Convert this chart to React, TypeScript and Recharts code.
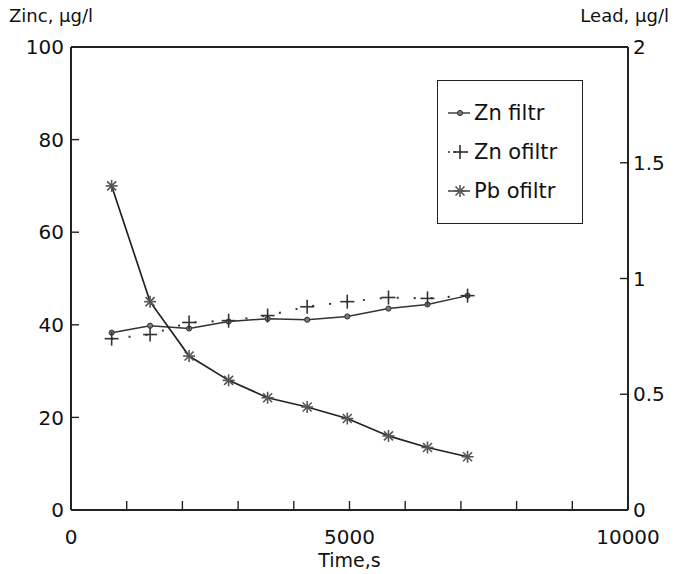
import React from 'react';
import { ComposedChart, Line, XAxis, YAxis, ReferenceLine, Legend } from 'recharts';

const times = [730, 1420, 2120, 2830, 3530, 4240, 4960, 5700, 6400, 7120];
const znFiltr = [38.3, 39.8, 39.2, 40.7, 41.3, 41.1, 41.8, 43.5, 44.4, 46.3];
const znOfiltr = [37.0, 37.9, 40.5, 40.9, 42.0, 43.9, 45.0, 45.9, 45.7, 46.3];
const pbOfiltr = [1.4, 0.9, 0.665, 0.56, 0.485, 0.445, 0.395, 0.32, 0.27, 0.23];

const xTicks = [0, 1000, 2000, 3000, 4000, 5000, 6000, 7000, 8000, 9000, 10000];
const xTickLabels = ['0', '5000', '10000'];
const zincTicks = [0, 20, 40, 60, 80, 100];
const leadTicks = [0, 0.5, 1, 1.5, 2];

const seriesNames = ['Zn filtr', 'Zn ofiltr', 'Pb ofiltr'];

const data = times.map((t, i) => ({ t, zf: znFiltr[i], zo: znOfiltr[i], pb: pbOfiltr[i] }));

const FONT = '"DejaVu Sans", Verdana, sans-serif';
const INK = '#222';
const MARK = '#555';

const XTick = (props: any) => {
  const { x, y, payload } = props;
  const v = String(payload.value);
  return (
    <g>
      <line x1={x} y1={y} x2={x} y2={y - 9} stroke={INK} strokeWidth={1.4} />
      {xTickLabels.includes(v) && (
        <text x={x} y={y + 34} textAnchor="middle" fontFamily={FONT} fontSize={20} fill="#111">{v}</text>
      )}
    </g>
  );
};

const LeftTick = (props: any) => {
  const { x, y, payload } = props;
  return (
    <g>
      <line x1={x} y1={y} x2={x + 8} y2={y} stroke={INK} strokeWidth={1.4} />
      <text x={x - 7} y={y} dy="0.36em" textAnchor="end" fontFamily={FONT} fontSize={20} fill="#111">{payload.value}</text>
    </g>
  );
};

const RightTick = (props: any) => {
  const { x, y, payload } = props;
  return (
    <g>
      <line x1={x} y1={y} x2={x - 8} y2={y} stroke={INK} strokeWidth={1.4} />
      <text x={x + 5} y={y} dy="0.36em" textAnchor="start" fontFamily={FONT} fontSize={20} fill="#111">{payload.value}</text>
    </g>
  );
};

const DotMarker = (props: any) => {
  const { cx, cy, index } = props;
  if (cx == null || cy == null) return <g key={index} />;
  return <circle key={index} cx={cx} cy={cy} r={2.6} fill="#777" stroke="#333" strokeWidth={1} />;
};

const PlusMarker = (props: any) => {
  const { cx, cy, index } = props;
  if (cx == null || cy == null) return <g key={index} />;
  return (
    <g key={index} stroke="#333" strokeWidth={1.6}>
      <line x1={cx - 7} y1={cy} x2={cx + 7} y2={cy} />
      <line x1={cx} y1={cy - 7} x2={cx} y2={cy + 7} />
    </g>
  );
};

const StarMarker = (props: any) => {
  const { cx, cy, index } = props;
  if (cx == null || cy == null) return <g key={index} />;
  const r = 6;
  const d = 4.5;
  return (
    <g key={index} stroke={MARK} strokeWidth={1.6}>
      <line x1={cx - r} y1={cy} x2={cx + r} y2={cy} />
      <line x1={cx} y1={cy - r} x2={cx} y2={cy + r} />
      <line x1={cx - d} y1={cy - d} x2={cx + d} y2={cy + d} />
      <line x1={cx - d} y1={cy + d} x2={cx + d} y2={cy - d} />
    </g>
  );
};

const LegendBox = () => {
  const rows = [
    { name: seriesNames[0], kind: 'dot' },
    { name: seriesNames[1], kind: 'plus' },
    { name: seriesNames[2], kind: 'star' },
  ];
  return (
    <div style={{ position: 'relative', width: 146, height: 144, border: `1.6px solid ${INK}`, background: '#fff', boxSizing: 'border-box' }}>
      {rows.map((r, i) => (
        <div key={r.name} style={{ position: 'absolute', left: 8, top: 19 + i * 39, height: 26, display: 'flex', alignItems: 'center' }}>
          <svg width={27} height={20} style={{ display: 'block' }}>
            {r.kind === 'plus' ? (
              <line x1={2} y1={10} x2={24} y2={10} stroke="#333" strokeWidth={1.6} strokeDasharray="2 4" />
            ) : (
              <line x1={2} y1={10} x2={24} y2={10} stroke="#333" strokeWidth={1.4} />
            )}
            {r.kind === 'dot' && <circle cx={14} cy={10} r={2.6} fill="#777" stroke="#333" strokeWidth={1} />}
            {r.kind === 'plus' && (
              <g stroke="#333" strokeWidth={1.6}>
                <line x1={7} y1={10} x2={21} y2={10} />
                <line x1={14} y1={3} x2={14} y2={17} />
              </g>
            )}
            {r.kind === 'star' && (
              <g stroke={MARK} strokeWidth={1.6}>
                <line x1={8} y1={10} x2={20} y2={10} />
                <line x1={14} y1={4} x2={14} y2={16} />
                <line x1={9.5} y1={5.5} x2={18.5} y2={14.5} />
                <line x1={9.5} y1={14.5} x2={18.5} y2={5.5} />
              </g>
            )}
          </svg>
          <span style={{ fontFamily: FONT, fontSize: 21, color: '#111', marginLeft: 1, whiteSpace: 'nowrap' }}>{r.name}</span>
        </div>
      ))}
    </div>
  );
};

export default function App() {
  return (
    <div style={{ position: 'absolute', left: 0, top: 0, width: 683, height: 574, background: '#fff' }}>
      <ComposedChart width={683} height={574} data={data} margin={{ top: 47, right: 0, bottom: 0, left: 0 }}>
        <XAxis
          dataKey="t"
          type="number"
          domain={[0, 10000]}
          ticks={xTicks}
          interval={0}
          height={64}
          stroke={INK}
          strokeWidth={2}
          tickLine={false}
          tickSize={0}
          tickMargin={0}
          tick={<XTick />}
          label={(p: any) => {
            const vb = p.viewBox;
            return (
              <text x={vb.x + vb.width / 2} y={vb.y + 57} textAnchor="middle" fontFamily={FONT} fontSize={19} fill="#111">Time,s</text>
            );
          }}
        />
        <YAxis
          yAxisId="zinc"
          orientation="left"
          domain={[0, 100]}
          ticks={zincTicks}
          interval={0}
          width={71}
          stroke={INK}
          strokeWidth={2}
          tickLine={false}
          tickSize={0}
          tickMargin={0}
          tick={<LeftTick />}
          label={(p: any) => {
            const vb = p.viewBox;
            return (
              <text x={9} y={vb.y - 25} textAnchor="start" fontFamily={FONT} fontSize={18} fill="#111">Zinc, µg/l</text>
            );
          }}
        />
        <YAxis
          yAxisId="lead"
          orientation="right"
          domain={[0, 2]}
          ticks={leadTicks}
          interval={0}
          width={55}
          stroke={INK}
          strokeWidth={2}
          tickLine={false}
          tickSize={0}
          tickMargin={0}
          tick={<RightTick />}
          label={(p: any) => {
            const vb = p.viewBox;
            return (
              <text x={669} y={vb.y - 25} textAnchor="end" fontFamily={FONT} fontSize={18} fill="#111">Lead, µg/l</text>
            );
          }}
        />
        <ReferenceLine yAxisId="zinc" y={100} stroke={INK} strokeWidth={2} />
        <Legend
          layout="vertical"
          align="center"
          verticalAlign="middle"
          content={<LegendBox />}
          wrapperStyle={{ position: 'absolute', left: 437, top: 80, width: 146, height: 144 }}
        />
        <Line
          yAxisId="zinc"
          dataKey="zf"
          name={seriesNames[0]}
          stroke="#333"
          strokeWidth={1.5}
          dot={<DotMarker />}
          activeDot={false}
          isAnimationActive={false}
        />
        <Line
          yAxisId="zinc"
          dataKey="zo"
          name={seriesNames[1]}
          stroke="#333"
          strokeWidth={2}
          strokeDasharray="2 15"
          dot={<PlusMarker />}
          activeDot={false}
          isAnimationActive={false}
        />
        <Line
          yAxisId="lead"
          dataKey="pb"
          name={seriesNames[2]}
          stroke="#222"
          strokeWidth={1.7}
          dot={<StarMarker />}
          activeDot={false}
          isAnimationActive={false}
        />
      </ComposedChart>
    </div>
  );
}
